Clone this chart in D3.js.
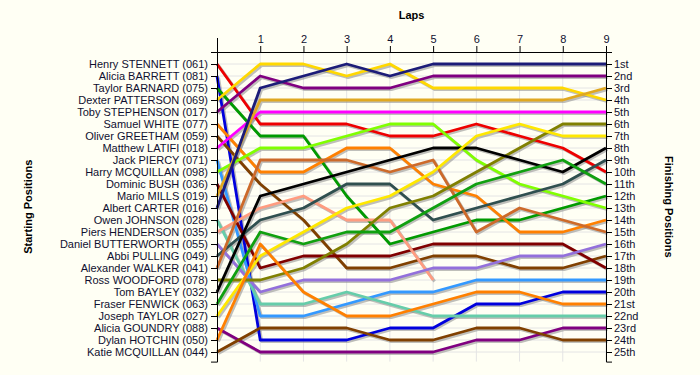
<!DOCTYPE html>
<html>
<head>
<meta charset="utf-8">
<script src="https://cdn.jsdelivr.net/npm/d3@7"></script>
<style>
  body { margin: 0; background: #fffff4; }
  svg { display: block; font-family: "Liberation Sans", Arial, sans-serif; }
</style>
</head>
<body>
<svg id="chart" width="700" height="375"></svg>
<script>
// Drivers in starting order
const drivers = [
    "Henry STENNETT (061)", "Alicia BARRETT (081)", "Taylor BARNARD (075)",
    "Dexter PATTERSON (069)", "Toby STEPHENSON (017)", "Samuel WHITE (077)",
    "Oliver GREETHAM (059)", "Matthew LATIFI (018)", "Jack PIERCY (071)",
    "Harry MCQUILLAN (098)", "Dominic BUSH (036)", "Mario MILLS (019)",
    "Albert CARTER (016)", "Owen JOHNSON (028)", "Piers HENDERSON (035)",
    "Daniel BUTTERWORTH (055)", "Abbi PULLING (049)", "Alexander WALKER (041)",
    "Ross WOODFORD (078)", "Tom BAYLEY (032)", "Fraser FENWICK (063)",
    "Joseph TAYLOR (027)", "Alicia GOUNDRY (088)", "Dylan HOTCHIN (050)",
    "Katie MCQUILLAN (044)"
];

const colors = [
    "#ee0000", "#0000dd", "#009a00", "#ffd800", "#800080", "#ff8000",
    "#804000", "#ff00ff", "#3399ff", "#80ff00", "#800000", "#e0a820",
    "#1c1c78", "#66cdaa", "#ff9c80", "#9370db", "#2f4f4f", "#cd6a2a",
    "#808000", "#000000", "#10a010", "#ffe800", "#800080", "#ff8000",
    "#804000"
];

// Position of each driver at lap 0 (start) .. lap 9, null = retired
const positions = [
    [1, 6, 6, 6, 7, 7, 6, 7, 8, 10],
    [2, 24, 24, 24, 23, 23, 21, 21, 20, 20],
    [3, 7, 7, 12, 16, 15, 14, 14, 13, 12],
    [4, 1, 1, 2, 1, 3, 3, 3, 3, 4],
    [5, 2, 3, 3, 3, 2, 2, 2, 2, 2],
    [6, 10, 10, 8, 8, 11, 12, 15, 15, 14],
    [7, 11, 14, 18, 18, 17, 17, 18, 18, 17],
    [8, 5, 5, 5, 5, 5, 5, 5, 5, 5],
    [9, 22, 22, 21, 20, 20, 19, 19, 19, 19],
    [10, 8, 8, 7, 6, 6, 9, 11, 12, 13],
    [11, 18, 17, 17, 17, 16, 16, 16, 16, 18],
    [12, 4, 4, 4, 4, 4, 4, 4, 4, 3],
    [13, 3, 2, 1, 2, 1, 1, 1, 1, 1],
    [14, 21, 21, 20, 21, 22, 22, 22, 22, 22],
    [15, 13, 12, 14, 14, 19, null, null, null, null],
    [16, 20, 19, 19, 19, 18, 18, 17, 17, 16],
    [17, 14, 13, 11, 11, 14, 13, 12, 11, 9],
    [18, 9, 9, 9, 10, 9, 15, 13, 14, 15],
    [19, 19, 18, 16, 13, 12, 10, 8, 6, 6],
    [20, 12, 11, 10, 9, 8, 8, 9, 10, 8],
    [21, 15, 16, 15, 15, 13, 11, 10, 9, 11],
    [22, 17, 15, 13, 12, 10, 7, 6, 7, 7],
    [23, 25, 25, 25, 25, 25, 24, 24, 23, 23],
    [24, 16, 20, 22, 22, 21, 20, 20, 21, 21],
    [25, 23, 23, 23, 24, 24, 23, 23, 24, 24]
];

const laps = [1, 2, 3, 4, 5, 6, 7, 8, 9];
const finishLabels = [
    "1st", "2nd", "3rd", "4th", "5th", "6th", "7th", "8th", "9th", "10th",
    "11th", "12th", "13th", "14th", "15th", "16th", "17th", "18th", "19th",
    "20th", "21st", "22nd", "23rd", "24th", "25th"
];

const svg = d3.select("#chart");
const textColor = "#101030";

const x = d3.scaleLinear().domain([0, 9]).range([217, 606]);
const y = d3.scaleLinear().domain([0, 25.8]).range([52, 361.6]);
const rows = d3.range(1, 26);

// Grid
svg.append("g")
    .selectAll("line")
    .data(rows)
    .join("line")
    .attr("x1", x(0)).attr("x2", x(9))
    .attr("y1", d => y(d)).attr("y2", d => y(d))
    .attr("stroke", "#e4e4e4");

svg.append("g")
    .selectAll("line")
    .data(laps)
    .join("line")
    .attr("x1", d => x(d)).attr("x2", d => x(d))
    .attr("y1", y(0)).attr("y2", y(25.8))
    .attr("stroke", "#e4e4e4");

// Lines with shadows
const line = d3.line()
    .defined(d => d.pos !== null)
    .x(d => x(d.lap))
    .y(d => y(d.pos));

const series = positions.map((p, i) => ({
    name: drivers[i],
    color: colors[i],
    values: p.map((pos, lap) => ({ lap: lap, pos: pos }))
}));

const shadows = svg.append("g").attr("transform", "translate(1.5,1.5)");
shadows.selectAll("path")
    .data(series)
    .join("path")
    .attr("fill", "none")
    .attr("stroke", "#8a8a8a")
    .attr("stroke-opacity", 0.55)
    .attr("stroke-width", 3)
    .attr("stroke-linejoin", "round")
    .attr("d", d => line(d.values));

svg.append("g")
    .selectAll("path")
    .data(series)
    .join("path")
    .attr("fill", "none")
    .attr("stroke", d => d.color)
    .attr("stroke-width", 2.8)
    .attr("stroke-linejoin", "round")
    .attr("d", d => line(d.values));

// Axes
const leftAxis = d3.axisLeft(y)
    .tickValues(rows)
    .tickFormat(d => drivers[d - 1])
    .tickSize(6);

const rightAxis = d3.axisRight(y)
    .tickValues(rows)
    .tickFormat(d => finishLabels[d - 1])
    .tickSize(6);

const topAxis = d3.axisTop(x)
    .tickValues(laps)
    .tickSize(6);

function styleAxis(g) {
    g.selectAll("path, line").attr("stroke", "#000");
    g.selectAll("text")
        .attr("fill", textColor)
        .style("font-size", "11px");
}

svg.append("g")
    .attr("transform", `translate(${x(0)},0)`)
    .call(leftAxis)
    .call(styleAxis);

svg.append("g")
    .attr("transform", `translate(${x(9)},0)`)
    .call(rightAxis)
    .call(g => g.selectAll("text").attr("x", 8))
    .call(styleAxis);

svg.append("g")
    .attr("transform", `translate(0,${y(0)})`)
    .call(topAxis)
    .call(styleAxis);

// the start column sticks up above the lap axis
svg.append("line")
    .attr("x1", x(0) + 0.5).attr("x2", x(0) + 0.5)
    .attr("y1", y(0) - 14).attr("y2", y(0))
    .attr("stroke", "#000");

// Titles
svg.append("text")
    .attr("x", (x(0) + x(9)) / 2)
    .attr("y", 19)
    .attr("text-anchor", "middle")
    .attr("font-weight", "bold")
    .attr("font-size", 11)
    .attr("fill", "#000")
    .text("Laps");

svg.append("text")
    .attr("transform", `translate(32,${(y(0) + y(25.8)) / 2}) rotate(-90)`)
    .attr("text-anchor", "middle")
    .attr("font-weight", "bold")
    .attr("font-size", 11)
    .attr("fill", "#000")
    .text("Starting Positions");

svg.append("text")
    .attr("transform", `translate(665,${(y(0) + y(25.8)) / 2}) rotate(90)`)
    .attr("text-anchor", "middle")
    .attr("font-weight", "bold")
    .attr("font-size", 11)
    .attr("fill", "#000")
    .text("Finishing Positions");
</script>
</body>
</html>
